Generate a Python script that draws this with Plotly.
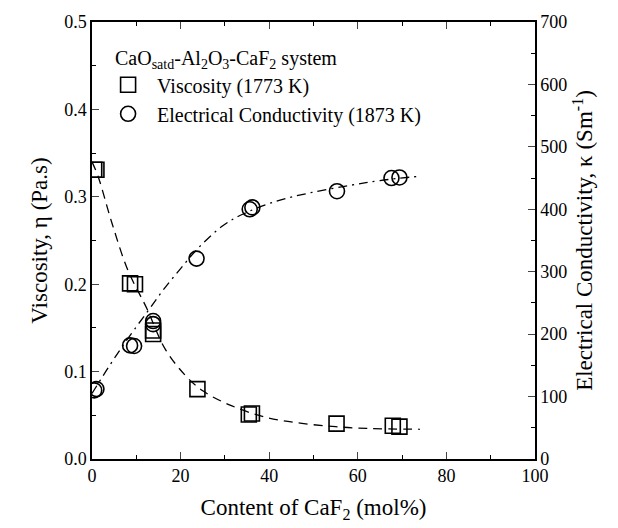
import plotly.graph_objects as go

# Viscosity data (1773 K)
visc_x = [0.5, 1.0, 8.6, 9.7, 13.8, 13.8, 23.8, 35.4, 36.1, 55.2, 67.9, 69.4]
visc_y = [0.331, 0.331, 0.201, 0.200, 0.143, 0.147, 0.080, 0.051, 0.052, 0.0405, 0.038, 0.037]

# Electrical conductivity data (1873 K)
cond_x = [0.5, 1.0, 8.6, 9.5, 13.8, 13.8, 23.6, 35.6, 36.2, 55.3, 67.6, 69.4]
cond_y = [110, 112, 182, 181, 221, 216, 321, 400, 403, 429, 450, 451]

# Fitted curves
vfit_x = [0, 1.4, 4.5, 8.1, 12.3, 16.5, 21, 25, 31, 39, 47, 55, 62, 74]
vfit_y = [0.34, 0.323, 0.27, 0.216, 0.173, 0.126, 0.096, 0.078, 0.062, 0.048, 0.041, 0.037, 0.035, 0.034]

cfit_x = [0, 4, 8, 12.3, 16, 20, 24, 29.6, 34, 41.6, 49, 58, 65, 74]
cfit_y = [105, 150, 192, 234, 270, 305, 338, 374, 392, 413, 426, 438, 446, 453]

FONT = "Liberation Serif"

fig = go.Figure()
fig.add_trace(go.Scatter(x=vfit_x, y=vfit_y, mode="lines", line=dict(color="black", width=1.3, dash="9px,6px"),
                         line_shape="spline", showlegend=False, hoverinfo="skip"))
fig.add_trace(go.Scatter(x=cfit_x, y=cfit_y, mode="lines", yaxis="y2",
                         line=dict(color="black", width=1.3, dash="9px,5px,2px,5px"),
                         line_shape="spline", showlegend=False, hoverinfo="skip"))
fig.add_trace(go.Scatter(x=visc_x, y=visc_y, mode="markers", name="Viscosity (1773 K)",
                         marker=dict(symbol="square-open", size=15, color="black", line=dict(width=1.6))))
fig.add_trace(go.Scatter(x=cond_x, y=cond_y, mode="markers", yaxis="y2", name="Electrical Conductivity (1873 K)",
                         marker=dict(symbol="circle-open", size=15, color="black", line=dict(width=1.6))))

fig.update_layout(
    width=618, height=528,
    margin=dict(l=92, r=83, t=18, b=66),
    paper_bgcolor="white", plot_bgcolor="white",
    font=dict(family=FONT, size=17, color="black"),
    xaxis=dict(range=[0, 100], dtick=20, ticks="inside", ticklen=7, tickwidth=1.2,
               showline=True, linecolor="black", linewidth=1.5, mirror="ticks",
               showgrid=False, zeroline=False,
               minor=dict(dtick=10, ticks="inside", ticklen=4, tickcolor="black"),
               title=dict(text="Content of CaF<sub>2</sub> (mol%)", font=dict(size=23), standoff=14),
               tickfont=dict(size=18)),
    yaxis=dict(range=[0, 0.5], dtick=0.1, tickformat=".1f", ticks="inside", ticklen=7, tickwidth=1.2,
               showline=True, linecolor="black", linewidth=1.5,
               showgrid=False, zeroline=False,
               minor=dict(dtick=0.05, ticks="inside", ticklen=4, tickcolor="black"),
               title=dict(text="Viscosity, η (Pa.s)", font=dict(size=23), standoff=10),
               tickfont=dict(size=18)),
    yaxis2=dict(range=[0, 700], dtick=100, overlaying="y", side="right", ticks="inside", ticklen=7, tickwidth=1.2,
                showline=True, linecolor="black", linewidth=1.5,
                showgrid=False, zeroline=False,
                minor=dict(dtick=50, ticks="inside", ticklen=4, tickcolor="black"),
                title=dict(text="Electrical Conductivity, κ (Sm<sup>-1</sup>)", font=dict(size=23), standoff=10),
                tickfont=dict(size=18)),
    legend=dict(x=0.016, y=0.901, xanchor="left", yanchor="top", bgcolor="rgba(0,0,0,0)",
                font=dict(size=20), tracegroupgap=0, itemwidth=48),
    showlegend=True,
    annotations=[dict(text="CaO<sub>satd</sub>-Al<sub>2</sub>O<sub>3</sub>-CaF<sub>2</sub> system",
                      xref="paper", yref="paper", x=0.047, y=0.914, xanchor="left", yanchor="middle",
                      showarrow=False, font=dict(size=20))],
)

fig.write_html("out.html")
